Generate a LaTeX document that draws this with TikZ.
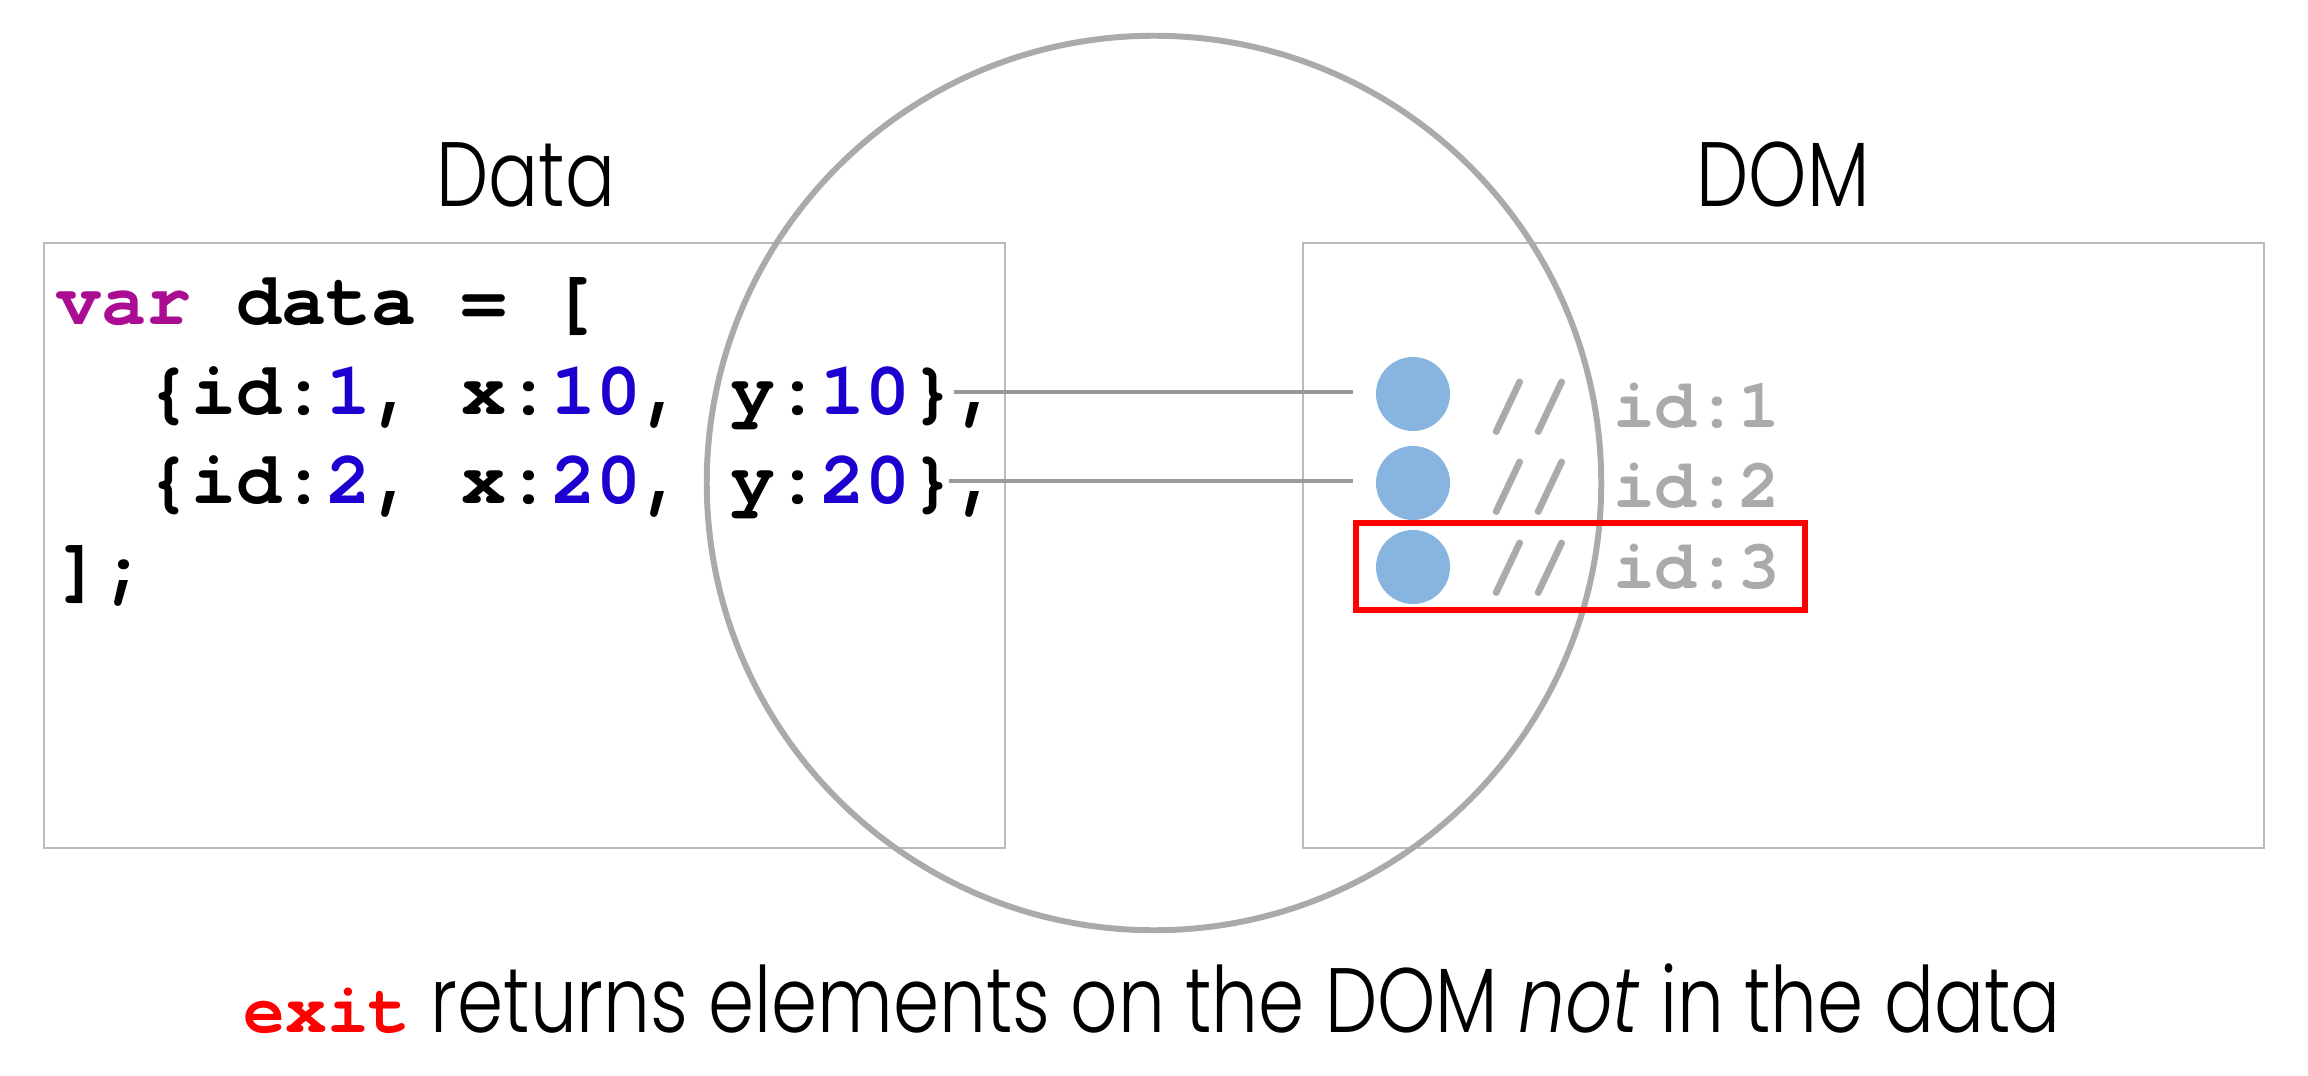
\documentclass[tikz,border=0pt]{standalone}
\usepackage{fontspec}
\setmainfont{Poppins}[UprightFont=* Light, ItalicFont=* Light Italic, FakeStretch=0.81]
\newfontfamily\codefont{TeX Gyre Cursor}[UprightFont=* Bold]
\definecolor{kw}{HTML}{AA0D91}
\definecolor{num}{HTML}{1C00CF}
\definecolor{notegray}{HTML}{AAAAAA}
\definecolor{ringgray}{HTML}{AAAAAA}
\definecolor{boxgray}{HTML}{BBBBBB}
\definecolor{linkgray}{HTML}{999999}
\definecolor{dotblue}{RGB}{135,181,224}
\newcommand\numc[1]{\textcolor{num}{#1}}
\begin{document}
\begin{tikzpicture}[x=0.01cm, y=-0.01cm,
    box/.style={draw=boxgray, line width=0.6pt},
    ring/.style={draw=ringgray, line width=1.7pt},
    title/.style={font=\fontsize{26}{30}\selectfont, anchor=base},
    code/.style={font=\codefont\fontsize{21.3}{25}\selectfont, anchor=base west, inner sep=0},
    note/.style={font=\codefont\fontsize{19.8}{24}\selectfont, text=notegray, anchor=base west, inner sep=0},
    elem/.style={circle, fill=dotblue, minimum size=0.74cm, inner sep=0},
    link/.style={draw=linkgray, line width=1.3pt, shorten >=0.22cm},
    exitbox/.style={draw=red, line width=1.8pt}]
    \useasboundingbox (0,0) rectangle (2308,1076);
    % the two panels and the selection ring
    \draw[box] (44,243) rectangle (1005,848);
    \draw[box] (1303,243) rectangle (2264,848);
    \draw[ring] (1154,483) circle[radius=4.47cm];
    \node[title] (datatitle) at (526,207) {Data};
    \node[title] (domtitle) at (1783,207) {DOM};
    % data array
    \node[code] (line1) at (56,325) {\textcolor{kw}{var} data = [};
    \node[code] (line2) at (56,414) {\ \ \{id:\numc{1}, x:\numc{10}, y:\numc{10}\},};
    \node[code] (line3) at (56,503) {\ \ \{id:\numc{2}, x:\numc{20}, y:\numc{20}\},};
    \node[code] (line4) at (56,592) {];};
    % DOM elements
    \node[elem] (dot1) at (1413,394) {};
    \node[elem] (dot2) at (1413,483) {};
    \node[elem] (dot3) at (1413,567) {};
    \node[note] (id1) at (1487,428) {// id:1};
    \node[note] (id2) at (1487,507) {// id:2};
    \node[note] (id3) at (1487,588) {// id:3};
    \coordinate (c1) at (954,392);
    \coordinate (c2) at (949,481);
    \draw[link] (c1) -- (c1 -| dot1.west);
    \draw[link] (c2) -- (c2 -| dot2.west);
    \draw[exitbox] (1356,523) rectangle (1805,610);
    \node[anchor=base, font=\fontsize{26}{30}\selectfont] (caption) at (1152,1032)
        {\textcolor{red}{\codefont\fontsize{19.8}{24}\selectfont exit} returns elements on the DOM \textit{not} in the data};
\end{tikzpicture}
\end{document}
